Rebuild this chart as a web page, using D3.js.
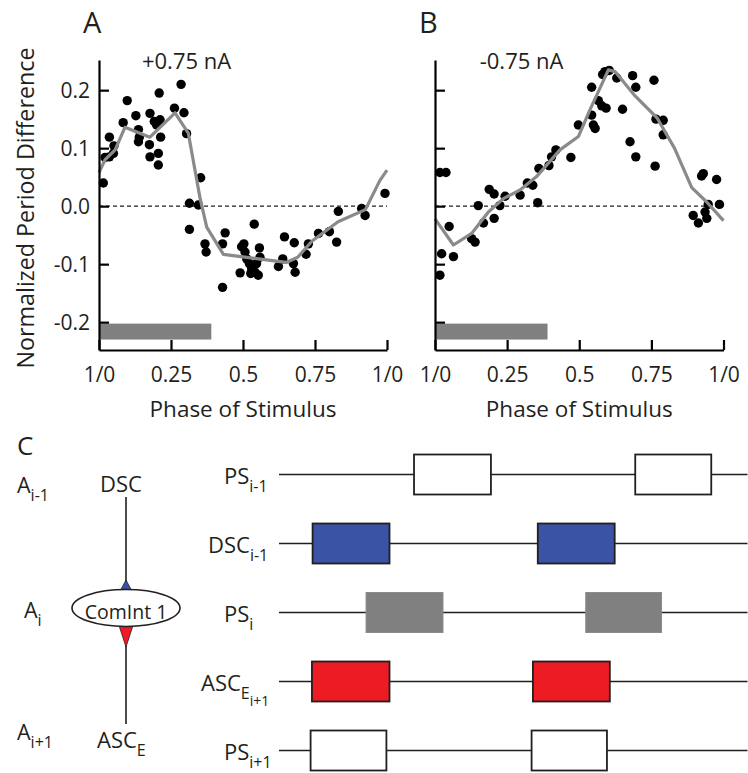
<!DOCTYPE html>
<html><head><meta charset="utf-8">
<script src="https://cdn.jsdelivr.net/npm/d3@7"></script>
<style>
body{margin:0;background:#fff}
svg{display:block}
text{font-family:"Open Sans",sans-serif;fill:#231f20}
</style>
</head><body>
<svg id="fig" width="748" height="773"></svg>
<script>
// ---------- DATA ----------
const xTicks = [0, 0.25, 0.5, 0.75, 1];
const xTickLabels = ["1/0", "0.25", "0.5", "0.75", "1/0"];
const yTicks = [-0.2, -0.1, 0, 0.1, 0.2];
const yTickLabels = ["-0.2", "-0.1", "0.0", "0.1", "0.2"];
const panelLetters = ["A", "B"];
const panelCurrents = ["+0.75 nA", "-0.75 nA"];
const stimulusPhase = [0, 0.39];
const stimulusValue = [-0.2025, -0.23];

// [phase, normalized period difference]
const posDots = [[0.015,0.040],[0.021,0.084],[0.036,0.119],[0.052,0.104],[0.050,0.091],[0.036,0.085],[0.084,0.144],[0.098,0.182],[0.128,0.156],[0.137,0.132],[0.140,0.119],[0.137,0.111],[0.177,0.160],[0.175,0.106],[0.177,0.085],[0.192,0.146],[0.200,0.140],[0.206,0.071],[0.209,0.195],[0.212,0.149],[0.214,0.119],[0.206,0.091],[0.262,0.169],[0.285,0.210],[0.295,0.161],[0.304,0.125],[0.353,0.049],[0.314,0.005],[0.345,0.002],[0.314,-0.040],[0.368,-0.065],[0.372,-0.079],[0.429,-0.065],[0.438,-0.046],[0.490,-0.115],[0.429,-0.140],[0.503,-0.065],[0.495,-0.070],[0.507,-0.079],[0.513,-0.091],[0.522,-0.099],[0.530,-0.108],[0.542,-0.114],[0.547,-0.099],[0.559,-0.088],[0.539,-0.031],[0.557,-0.072],[0.553,-0.119],[0.527,-0.116],[0.623,-0.104],[0.644,-0.053],[0.638,-0.091],[0.675,-0.099],[0.681,-0.114],[0.678,-0.063],[0.719,-0.083],[0.727,-0.065],[0.762,-0.047],[0.800,-0.044],[0.831,-0.009],[0.825,-0.062],[0.912,-0.004],[0.924,-0.016],[0.993,0.022]];
const posFit = [[0,0.058],[0.021,0.080],[0.056,0.097],[0.090,0.136],[0.177,0.119],[0.264,0.161],[0.310,0.126],[0.350,0.016],[0.374,-0.036],[0.432,-0.083],[0.540,-0.090],[0.650,-0.097],[0.690,-0.088],[0.740,-0.060],[0.830,-0.027],[0.925,-0.006],[0.975,0.044],[1.0,0.062]];

const negDots = [[0.017,-0.119],[0.023,-0.082],[0.064,-0.087],[0.049,-0.035],[0.017,0.058],[0.038,0.058],[0.127,-0.056],[0.139,-0.062],[0.150,0.001],[0.168,-0.029],[0.188,0.029],[0.205,0.021],[0.205,-0.021],[0.225,0.001],[0.243,0.017],[0.295,0.019],[0.320,0.040],[0.339,0.036],[0.356,0.006],[0.360,0.065],[0.395,0.070],[0.404,0.085],[0.419,0.097],[0.471,0.084],[0.497,0.140],[0.543,0.205],[0.543,0.157],[0.549,0.140],[0.555,0.134],[0.566,0.182],[0.578,0.173],[0.593,0.169],[0.581,0.227],[0.589,0.232],[0.604,0.234],[0.630,0.221],[0.650,0.167],[0.685,0.225],[0.696,0.205],[0.676,0.111],[0.696,0.085],[0.759,0.217],[0.763,0.069],[0.766,0.150],[0.791,0.148],[0.791,0.123],[0.895,-0.016],[0.913,-0.029],[0.924,0.052],[0.930,0.056],[0.936,-0.010],[0.942,-0.021],[0.947,0.003],[0.976,0.046],[0.986,0.003]];
const negFit = [[0,-0.022],[0.064,-0.067],[0.127,-0.047],[0.185,-0.010],[0.237,0.013],[0.295,0.028],[0.352,0.051],[0.433,0.097],[0.497,0.120],[0.537,0.166],[0.601,0.235],[0.624,0.232],[0.690,0.192],[0.770,0.152],[0.830,0.100],[0.890,0.032],[0.940,0.008],[1.0,-0.025]];

// Panel C: timing diagram (time in cycles)
const timingRows = ["PS_i-1", "DSC_i-1", "PS_i", "ASC_Ei+1", "PS_i+1"];
const timingLabelParts = [
  [["PS",0],["i-1",1]],
  [["DSC",0],["i-1",1]],
  [["PS",0],["i",1]],
  [["ASC",0],["E",1],["i+1",2]],
  [["PS",0],["i+1",1]]
];
const timingBursts = [
  [[0.611,0.959],[1.612,1.956]],
  [[0.152,0.500],[1.171,1.519]],
  [[0.394,0.742],[1.388,1.731]],
  [[0.149,0.500],[1.149,1.497]],
  [[0.143,0.486],[1.143,1.484]]
];
const timingKinds = ["open","dsc","ps","asc","open"];
const timeDomain = [0, 2.12];
const circuitLabels = [[["A",0],["i-1",1]], [["A",0],["i",1]], [["A",0],["i+1",1]]];
const circuitNodes = ["DSC", "ComInt 1", "ASC"];

// ---------- DRAW ----------
const svg = d3.select("#fig");
const y = d3.scaleLinear().domain([-0.248, 0.252]).range([350, 60]);

function panel(xr, dots, fit, idx) {
  const x = d3.scaleLinear().domain([0, 1]).range(xr);
  const g = svg.append("g");
  g.append("line").attr("x1", x(0)).attr("x2", x(1)).attr("y1", y(0)).attr("y2", y(0))
    .attr("stroke", "#231f20").attr("stroke-width", 1.3).attr("stroke-dasharray", "4,3");
  g.append("rect").attr("x", x(stimulusPhase[0])).attr("width", x(stimulusPhase[1]) - x(stimulusPhase[0]))
    .attr("y", y(stimulusValue[0])).attr("height", y(stimulusValue[1]) - y(stimulusValue[0]))
    .attr("fill", "#808080");
  g.selectAll("circle").data(dots).join("circle")
    .attr("cx", d => x(d[0])).attr("cy", d => y(d[1])).attr("r", 4.7).attr("fill", "#000");
  g.append("path").datum(fit)
    .attr("d", d3.line().x(d => x(d[0])).y(d => y(d[1])))
    .attr("fill", "none").attr("stroke", "#8a8a8a").attr("stroke-width", 3.2).attr("stroke-linejoin", "round");
  const ya = g.append("g").attr("transform", `translate(${x(0)},0)`)
    .call(d3.axisLeft(y).tickValues(yTicks).tickSizeInner(-10).tickSizeOuter(0).tickPadding(9)
      .tickFormat((d, i) => idx === 0 ? yTickLabels[i] : ""));
  const xa = g.append("g").attr("transform", `translate(0,${y.range()[0]})`)
    .call(d3.axisBottom(x).tickValues(xTicks).tickSizeInner(-10).tickSizeOuter(0).tickPadding(17)
      .tickFormat((d, i) => xTickLabels[i]));
  [ya, xa].forEach(a => {
    a.attr("font-family", null).attr("font-size", null);
    a.selectAll("path,line").attr("stroke", "#000").attr("stroke-width", 2.2);
    a.selectAll("text").attr("font-size", 21).attr("fill", "#231f20");
  });
  ya.selectAll("text").attr("dy", "0.36em");
  svg.append("text").attr("x", x(0) - 16).attr("y", 33).attr("font-size", 29).text(panelLetters[idx]);
  svg.append("text").attr("x", x(idx === 0 ? 0.304 : 0.3)).attr("y", 69).attr("text-anchor", "middle")
    .attr("font-size", 22).text(panelCurrents[idx]);
  svg.append("text").attr("x", (xr[0] + xr[1]) / 2).attr("y", 417).attr("text-anchor", "middle")
    .attr("font-size", 22.5).text("Phase of Stimulus");
}
panel([99, 387], posDots, posFit, 0);
panel([435, 723.5], negDots, negFit, 1);

svg.append("text").attr("transform", "translate(34,208) rotate(-90)").attr("text-anchor", "middle")
  .attr("font-size", 23.3).text("Normalized Period Difference");

// ---------- Panel C ----------
function subText(sel, parts, base, sub1, sub2) {
  parts.forEach(([t, lvl], i) => {
    const prev = i ? parts[i - 1][1] : 0;
    const offs = [0, 8, 15];
    sel.append("tspan").attr("font-size", lvl === 0 ? base : (lvl === 1 ? sub1 : sub2))
      .attr("dy", offs[lvl] - offs[prev]).text(t);
  });
}
svg.append("text").attr("x", 17).attr("y", 455).attr("font-size", 26).text("C");

const cl = [[17, 493], [24, 618], [17, 740]];
circuitLabels.forEach((p, i) => {
  const t = svg.append("text").attr("x", cl[i][0]).attr("y", cl[i][1]);
  subText(t, p, 21.5, 16, 14);
});

const cx = 126;
svg.append("line").attr("x1", cx).attr("x2", cx).attr("y1", 497).attr("y2", 584).attr("stroke", "#231f20").attr("stroke-width", 1.6);
svg.append("line").attr("x1", cx).attr("x2", cx).attr("y1", 645).attr("y2", 724).attr("stroke", "#231f20").attr("stroke-width", 1.6);
svg.append("path").attr("d", `M${cx},580L${cx + 7.5},594L${cx - 7.5},594Z`).attr("fill", "#3a53a4").attr("stroke", "#231f20").attr("stroke-width", 0.8);
svg.append("path").attr("d", `M${cx},647L${cx + 7.5},624L${cx - 7.5},624Z`).attr("fill", "#ed1c24").attr("stroke", "#231f20").attr("stroke-width", 0.8);
svg.append("ellipse").attr("cx", cx).attr("cy", 608).attr("rx", 54).attr("ry", 18.5)
  .attr("fill", "#fff").attr("stroke", "#231f20").attr("stroke-width", 1.6);
svg.append("text").attr("x", cx).attr("y", 619).attr("text-anchor", "middle").attr("font-size", 19.5).text(circuitNodes[1]);
svg.append("text").attr("x", 121).attr("y", 492).attr("text-anchor", "middle").attr("font-size", 22).text(circuitNodes[0]);
{
  const t = svg.append("text").attr("x", 97).attr("y", 748);
  subText(t, [[circuitNodes[2], 0], ["E", 1]], 22, 16, 14);
}

const tx = d3.scaleLinear().domain(timeDomain).range([279, 747.5]);
const ty = d3.scalePoint().domain(timingRows).range([474.5, 750.5]);
const fills = {open: "#fff", dsc: "#3a53a4", ps: "#808080", asc: "#ed1c24"};
const labelX = [224, 208, 224, 201, 224];
timingRows.forEach((r, i) => {
  const yy = ty(r);
  svg.append("line").attr("x1", tx(0)).attr("x2", tx(timeDomain[1])).attr("y1", yy).attr("y2", yy)
    .attr("stroke", "#231f20").attr("stroke-width", 1.6);
  svg.selectAll(null).data(timingBursts[i]).join("rect")
    .attr("x", d => tx(d[0])).attr("width", d => tx(d[1]) - tx(d[0]))
    .attr("y", yy - 20).attr("height", 40)
    .attr("fill", fills[timingKinds[i]])
    .attr("stroke", timingKinds[i] === "ps" ? "#8c8c8c" : "#231f20")
    .attr("stroke-width", timingKinds[i] === "ps" ? 1 : 1.8);
  const t = svg.append("text").attr("x", labelX[i]).attr("y", yy + 9);
  subText(t, timingLabelParts[i], 22, 16, 14);
});
</script>
</body></html>
